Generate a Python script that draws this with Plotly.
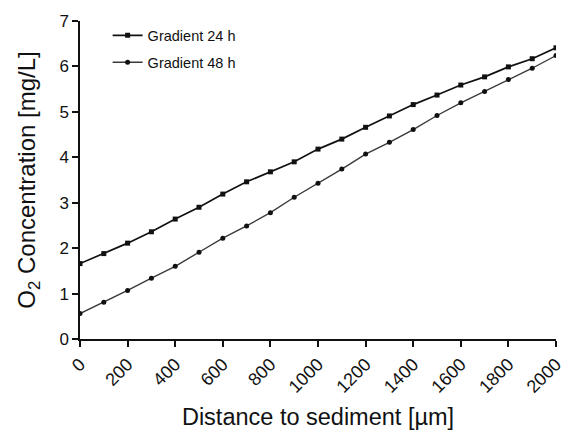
import plotly.graph_objects as go

# Oxygen profiles measured above the sediment surface
distance_um = [0, 100, 200, 300, 400, 500, 600, 700, 800, 900, 1000,
               1100, 1200, 1300, 1400, 1500, 1600, 1700, 1800, 1900, 2000]
o2_24h = [1.66, 1.88, 2.11, 2.36, 2.64, 2.90, 3.19, 3.46, 3.68, 3.90, 4.18,
          4.40, 4.66, 4.91, 5.16, 5.37, 5.59, 5.77, 5.99, 6.17, 6.41]
o2_48h = [0.56, 0.81, 1.07, 1.34, 1.60, 1.91, 2.22, 2.49, 2.78, 3.12, 3.43,
          3.74, 4.07, 4.33, 4.61, 4.92, 5.20, 5.45, 5.71, 5.96, 6.24]
x_ticks = [0, 200, 400, 600, 800, 1000, 1200, 1400, 1600, 1800, 2000]
y_ticks = [0, 1, 2, 3, 4, 5, 6, 7]

FONT = "Liberation Sans, Arial, sans-serif"
INK = "#111111"

fig = go.Figure()
fig.add_trace(go.Scatter(
    x=distance_um, y=o2_24h, mode="lines+markers", name="Gradient 24 h",
    legendgroup="g24",
    line=dict(color=INK, width=1.7),
    marker=dict(symbol="square", size=5, color=INK),
))
fig.add_trace(go.Scatter(
    x=distance_um, y=o2_48h, mode="lines+markers", name="Gradient 48 h",
    legendgroup="g48",
    line=dict(color="#3a3a3a", width=1.4),
    marker=dict(symbol="circle", size=5, color=INK),
))

fig.update_layout(
    width=564, height=430,
    margin=dict(l=80, r=8, t=21, b=91),
    paper_bgcolor="white", plot_bgcolor="white",
    font=dict(family=FONT, color=INK),
    showlegend=True,
    legend=dict(
        x=0.058, y=1.005, xanchor="left", yanchor="top",
        bgcolor="rgba(0,0,0,0)", borderwidth=0,
        font=dict(size=14.5, family=FONT, color=INK),
        itemwidth=30, tracegroupgap=5,
    ),
    xaxis=dict(
        range=[0, 2000], tickvals=x_ticks, ticktext=[str(v) for v in x_ticks],
        tickangle=-45, ticks="outside", ticklen=6, tickwidth=1.5,
        tickcolor=INK, showline=True, linecolor=INK, linewidth=1.5,
        showgrid=False, zeroline=False, ticklabeloverflow="allow",
        automargin=False,
        tickfont=dict(size=18, family=FONT, color=INK),
        title=dict(text="Distance to sediment [µm]", standoff=16,
                   font=dict(size=23.5, family=FONT, color=INK)),
    ),
    yaxis=dict(
        range=[0, 7], tickvals=y_ticks, ticks="outside", ticklen=6,
        tickwidth=1.5, tickcolor=INK, showline=True,
        linecolor=INK, linewidth=1.5, showgrid=False, zeroline=False,
        automargin=False,
        tickfont=dict(size=17, family=FONT, color=INK),
        title=dict(text="O<sub>2</sub> Concentration [mg/L]", standoff=17,
                   font=dict(size=24, family=FONT, color=INK)),
    ),
)

fig.write_html("out.html")
